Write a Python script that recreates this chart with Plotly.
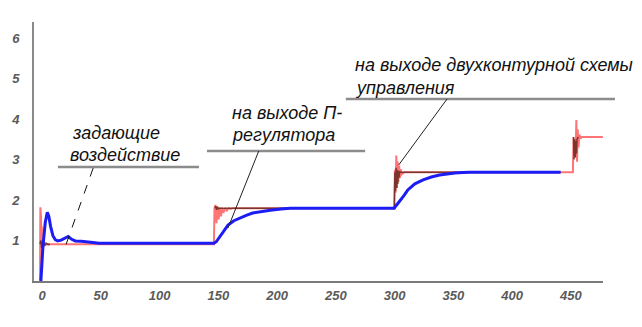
import plotly.graph_objects as go

# ---- data ----
t_blue = [0, 0.8, 2.5, 4.5, 6.2, 7.5, 9, 11, 13, 15, 18, 21, 24, 27, 30, 35, 40, 45, 50, 55,
          148, 150, 153, 157, 160, 165, 170, 176, 181, 188, 196, 205, 213, 225,
          301.5, 303, 306, 310, 313, 319, 326, 333, 340, 347, 353, 360, 366, 443]
v_blue = [0, 0.02, 0.85, 1.45, 1.70, 1.60, 1.35, 1.12, 1.02, 0.99, 1.01, 1.06, 1.10, 1.03, 0.99, 0.98, 0.97, 0.95, 0.93, 0.93,
          0.93, 0.97, 1.09, 1.25, 1.38, 1.49, 1.56, 1.63, 1.68, 1.72, 1.75, 1.78, 1.80, 1.80,
          1.80, 1.86, 1.96, 2.12, 2.25, 2.40, 2.50, 2.57, 2.62, 2.65, 2.67, 2.68, 2.69, 2.69]

t_red = [0, 0.3, 0.6, 0.9, 1.2, 1.5, 1.8, 2.1, 2.5, 3, 3.5, 4, 5,
         148, 148.5, 149.3, 150.2, 151, 152, 153, 154, 155, 156, 157.5, 159, 160.5, 162, 164,
         301.5, 302, 302.6, 303.2, 303.8, 304.4, 305, 305.6, 306.3, 307, 308, 310,
         453.5, 454, 454.6, 455.2, 455.8, 456.4, 457, 457.6, 458.3, 459, 460, 461, 479]
v_red = [0, 1.82, 0.10, 1.58, 0.35, 1.35, 0.60, 1.15, 0.78, 1.02, 0.85, 0.95, 0.91,
         0.91, 1.80, 1.88, 1.43, 1.84, 1.52, 1.82, 1.60, 1.81, 1.68, 1.80, 1.74, 1.80, 1.78, 1.80,
         1.80, 2.75, 2.18, 3.10, 2.30, 2.95, 2.45, 2.85, 2.55, 2.76, 2.64, 2.69,
         2.69, 3.56, 3.10, 3.50, 3.05, 3.98, 2.95, 3.75, 3.30, 3.62, 3.52, 3.56, 3.56]

t_dark = [0, 0.7, 1.4, 2.1, 2.8, 3.5, 4.5, 5.5, 7, 8.5, None,
          149, 149.6, 150.3, 151, 152, 153.5, 301.5,
          302, 302.5, 303, 303.5, 304, 304.5, 305, 305.5, 306, 307, 443, None,
          454, 454.5, 455, 455.5, 456, 456.5, 457, 458]
v_dark = [0.91, 1.00, 0.82, 0.97, 0.85, 0.95, 0.88, 0.93, 0.90, 0.91, None,
          1.80, 1.85, 1.76, 1.82, 1.79, 1.80, 1.80,
          2.69, 2.22, 2.80, 2.30, 2.75, 2.40, 2.72, 2.55, 2.70, 2.69, 2.69, None,
          3.56, 3.00, 3.50, 3.05, 3.45, 3.15, 3.50, 3.56]

x_ticks = [0, 50, 100, 150, 200, 250, 300, 350, 400, 450]
y_ticks = [1, 2, 3, 4, 5, 6]

label_lines = [
    "задающие", "воздействие",
    "на выходе П-", "регулятора",
    "на выходе двухконтурной схемы", "управления",
]

fig = go.Figure()
fig.add_trace(go.Scatter(x=t_red, y=v_red, mode="lines",
                         line=dict(color="rgba(255,30,30,0.62)", width=2), hoverinfo="skip"))
fig.add_trace(go.Scatter(x=t_dark, y=v_dark, mode="lines", connectgaps=False,
                         line=dict(color="rgba(70,25,15,0.7)", width=1.5), hoverinfo="skip"))
fig.add_trace(go.Scatter(x=t_blue, y=v_blue, mode="lines",
                         line=dict(color="#1c1cf5", width=3), hoverinfo="skip"))

tick_font = dict(family="Liberation Sans", size=13, color="#5a5a5a", weight="bold")

# the page body has an 8px margin, so the figure is 8px smaller and margins reduced by 8
fig.update_layout(
    width=634, height=319,
    margin=dict(l=26, r=39, t=14, b=46, autoexpand=False),
    paper_bgcolor="white", plot_bgcolor="white",
    showlegend=False,
    xaxis=dict(range=[-5.1, 479.1], tickvals=x_ticks,
               ticktext=[f"<i>{v}</i>" for v in x_ticks],
               showgrid=False, zeroline=False,
               showline=True, linecolor="#7a7a7a", linewidth=2, ticks="", automargin=False,
               tickfont=tick_font, ticklabelshift=2, ticklabelstandoff=1),
    yaxis=dict(range=[0, 6.4], tickvals=y_ticks,
               ticktext=[f"<i>{v}</i>" for v in y_ticks],
               showgrid=False, zeroline=False,
               showline=True, linecolor="#8a8a8a", linewidth=2, ticks="", automargin=False,
               tickfont=tick_font, ticklabelstandoff=10),
)

gray = "#8c8c8c"
for x0, x1, y in [(0.042, 0.290, 0.440), (0.304, 0.582, 0.502), (0.548, 1.021, 0.703)]:
    fig.add_shape(type="line", xref="paper", yref="paper", x0=x0, x1=x1, y0=y, y1=y,
                  line=dict(color=gray, width=2.5))

fig.add_shape(type="line", xref="paper", yref="paper", x0=0.104, y0=0.436, x1=0.056, y1=0.139,
              line=dict(color="#111", width=1, dash="dash"))
fig.add_shape(type="line", xref="paper", yref="paper", x0=0.395, y0=0.502, x1=0.341, y1=0.205,
              line=dict(color="#222", width=1))
fig.add_shape(type="line", xref="paper", yref="paper", x0=0.726, y0=0.703, x1=0.641, y1=0.448,
              line=dict(color="#222", width=1))

ann_font = dict(family="Liberation Sans", size=18, color="#111", style="italic")
positions = [(0.0633, 0.5714), (0.0598, 0.4865),
             (0.3445, 0.6486), (0.3445, 0.5637),
             (0.5606, 0.8340), (0.5606, 0.7452)]
for txt, (px, py) in zip(label_lines, positions):
    fig.add_annotation(text=txt, xref="paper", yref="paper", x=px, y=py,
                       xanchor="left", yanchor="middle", showarrow=False, font=ann_font)

fig.write_html("out.html", config={"displayModeBar": False})
